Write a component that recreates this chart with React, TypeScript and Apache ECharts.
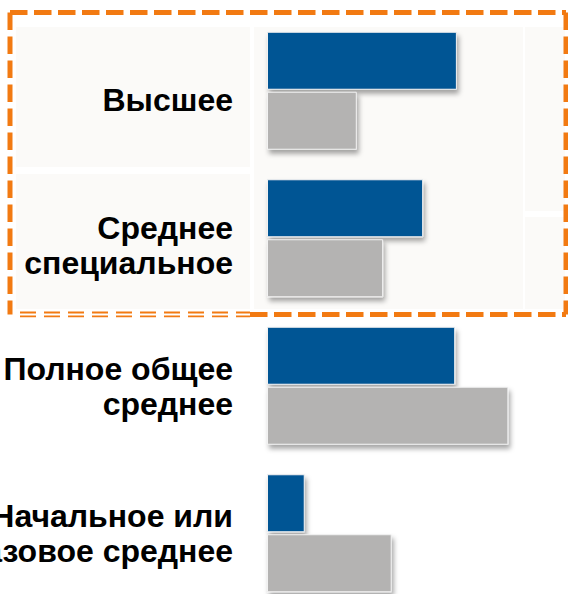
import React, { useEffect, useRef } from "react";
import * as echarts from "echarts";

const categories = [
  "Высшее",
  "Среднее\nспециальное",
  "Полное общее\nсреднее",
  "Начальное или\nбазовое среднее",
];
const seriesBlue = [33.2, 27.3, 32.9, 6.6];
const seriesGray = [15.7, 20.3, 42.2, 21.8];
// vertical label nudges (px, downward) as in the reference
const labelShift = [9, 7, 1, 0];

const BLUE = "#055594";
const GRAY = "#b4b3b2";
const ORANGE = "#f27a12";
const PANEL = "#fbfaf8";
const FONT = "Liberation Sans, Arial, sans-serif";

export default function App() {
  const ref = useRef<HTMLDivElement>(null);
  useEffect(() => {
    if (!ref.current) return;
    const chart = echarts.init(ref.current, undefined, { renderer: "svg" });
    const barStyle = (color: string) => ({
      color,
      borderColor: "#f2f2f2",
      borderWidth: 1,
      shadowColor: "rgba(0,0,0,0.35)",
      shadowBlur: 5,
      shadowOffsetX: 2,
      shadowOffsetY: 4,
    });
    const dash = (x1: number, y1: number, x2: number, y2: number, w: number, d: number[]) => ({
      type: "line",
      z: 100,
      silent: true,
      shape: { x1, y1, x2, y2 },
      style: { stroke: ORANGE, lineWidth: w, lineDash: d },
    });
    const rich: Record<string, any> = {
      t: { fontFamily: FONT, fontWeight: "bold", fontSize: 32, lineHeight: 35, color: "#000", align: "right" },
    };
    labelShift.forEach((s, i) => {
      rich["g" + i] = { fontSize: 1, lineHeight: Math.max(1, s * 2), align: "right" };
    });
    chart.setOption({
      animation: false,
      backgroundColor: "#ffffff",
      grid: {
        left: 267,
        top: 17,
        width: 286,
        height: 590,
        outerBoundsMode: "none",
        containLabel: false,
      },
      xAxis: {
        type: "value",
        min: 0,
        max: 50,
        show: false,
        splitLine: { show: false },
      },
      yAxis: {
        type: "category",
        inverse: true,
        data: categories,
        axisLine: { show: false },
        axisTick: { show: false },
        axisLabel: {
          margin: 34,
          color: "#000000",
          fontFamily: FONT,
          fontWeight: "bold",
          fontSize: 32,
          lineHeight: 35,
          formatter: (v: string, i: number) => {
            const lines = v.split("\n").map((l) => `{t|${l}}`).join("\n");
            return labelShift[i] > 0 ? `{g${i}| }\n${lines}` : lines;
          },
          rich,
        },
      },
      graphic: [
        // panels
        { type: "rect", z: -10, silent: true, shape: { x: 16, y: 27, width: 234, height: 140 }, style: { fill: PANEL } },
        { type: "rect", z: -10, silent: true, shape: { x: 16, y: 174, width: 234, height: 135 }, style: { fill: PANEL } },
        { type: "rect", z: -10, silent: true, shape: { x: 254, y: 27, width: 269, height: 282 }, style: { fill: PANEL } },
        { type: "rect", z: -10, silent: true, shape: { x: 525, y: 27, width: 40, height: 184 }, style: { fill: PANEL } },
        { type: "rect", z: -10, silent: true, shape: { x: 525, y: 217, width: 40, height: 92 }, style: { fill: PANEL } },
        // dashed frame
        dash(10, 12.5, 566, 12.5, 5, [17.5, 6.5]),
        dash(10, 12.5, 10, 314.5, 5, [17.5, 6.5]),
        dash(566, 12.5, 566, 314.5, 5, [17.5, 6.5]),
        dash(250, 314.5, 566, 314.5, 5, [17.5, 6.5]),
        dash(20, 312.5, 250, 312.5, 1.8, [16, 8]),
        dash(20, 316.3, 250, 316.3, 1.8, [16, 8]),
      ],
      series: [
        {
          type: "bar",
          data: seriesBlue,
          barWidth: 58,
          barGap: "3.4%",
          itemStyle: barStyle(BLUE),
        },
        {
          type: "bar",
          data: seriesGray,
          barWidth: 58,
          barGap: "3.4%",
          itemStyle: barStyle(GRAY),
        },
      ],
    });
    return () => chart.dispose();
  }, []);
  return (
    <div style={{ position: "fixed", left: 0, top: 0, width: 568, height: 594, overflow: "hidden", background: "#fff" }}>
      <div ref={ref} style={{ position: "absolute", left: 0, top: 0, width: 568, height: 620 }} />
    </div>
  );
}
